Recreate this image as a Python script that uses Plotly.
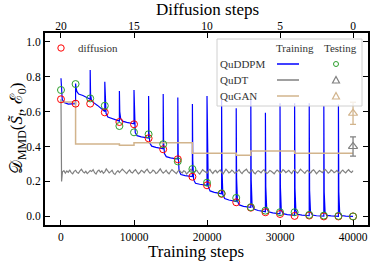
import plotly.graph_objects as go

# ---------------- data ----------------
diffusion_step_ticks = [20, 15, 10, 5, 0]
training_step_ticks = [0, 10000, 20000, 30000, 40000]
y_ticks = [0.0, 0.2, 0.4, 0.6, 0.8, 1.0]

# evaluation points (training steps) for circles
eval_steps = [0, 2000, 4000, 6000, 8000, 10000, 12000, 14000, 16000, 18000, 20000,
              22000, 24000, 26000, 28000, 30000, 32000, 34000, 36000, 38000, 40000]
diffusion_values = [0.67, 0.645, 0.645, 0.595, 0.54, 0.527, 0.447, 0.384, 0.327, 0.227, 0.178,
                    0.129, 0.081, 0.05, 0.024, 0.014, 0.003, 0.005, 0.0, 0.0, 0.0]
quddpm_test_values = [0.723, 0.757, 0.675, 0.633, 0.517, 0.481, 0.47, 0.413, 0.315, 0.271, 0.193,
                      0.132, 0.106, 0.053, 0.033, 0.024, 0.024, 0.009, 0.005, 0.003, 0.0]

# QuDDPM training: each 2000-step segment sampled at these offsets
segment_length = 2000
segment_offsets = [0, 50, 170, 420, 1000, 1999]
quddpm_train_segments = [
    [0.79, 0.72, 0.67, 0.652, 0.642, 0.645],
    [0.76, 0.74, 0.715, 0.70, 0.692, 0.67],
    [0.837, 0.70, 0.665, 0.652, 0.635, 0.60],
    [0.77, 0.64, 0.59, 0.568, 0.558, 0.545],
    [0.717, 0.60, 0.56, 0.545, 0.538, 0.53],
    [0.723, 0.54, 0.48, 0.462, 0.455, 0.448],
    [0.689, 0.48, 0.42, 0.402, 0.395, 0.387],
    [0.70, 0.43, 0.36, 0.342, 0.335, 0.328],
    [0.68, 0.36, 0.262, 0.24, 0.233, 0.228],
    [0.643, 0.32, 0.21, 0.19, 0.184, 0.178],
    [0.689, 0.30, 0.17, 0.146, 0.138, 0.13],
    [0.675, 0.27, 0.125, 0.102, 0.094, 0.085],
    [0.618, 0.22, 0.088, 0.066, 0.058, 0.052],
    [0.666, 0.21, 0.065, 0.042, 0.034, 0.027],
    [0.593, 0.17, 0.048, 0.027, 0.02, 0.015],
    [0.647, 0.17, 0.038, 0.016, 0.01, 0.006],
    [0.647, 0.16, 0.032, 0.012, 0.007, 0.004],
    [0.647, 0.15, 0.028, 0.008, 0.004, 0.002],
    [0.631, 0.14, 0.024, 0.006, 0.003, 0.001],
    [0.64, 0.14, 0.022, 0.005, 0.002, 0.0],
]

# QuDT training (noisy)
qudt_steps = [0, 80] + list(range(200, 40001, 200))
qudt_values = [0.67, 0.20,
    0.255, 0.262, 0.248, 0.26, 0.252, 0.266, 0.25, 0.244, 0.258, 0.264, 0.251, 0.247, 0.261, 0.27, 0.256, 0.249, 0.258, 0.245, 0.253, 0.263,
    0.257, 0.268, 0.25, 0.243, 0.259, 0.265, 0.252, 0.261, 0.247, 0.255, 0.272, 0.26, 0.249, 0.256, 0.264, 0.246, 0.24, 0.254, 0.262, 0.251,
    0.258, 0.27, 0.262, 0.25, 0.245, 0.257, 0.266, 0.253, 0.248, 0.26, 0.268, 0.255, 0.243, 0.251, 0.264, 0.258, 0.249, 0.262, 0.27, 0.256,
    0.247, 0.253, 0.265, 0.259, 0.246, 0.25, 0.263, 0.272, 0.258, 0.248, 0.255, 0.264, 0.251, 0.244, 0.257, 0.268, 0.26, 0.25, 0.245, 0.258,
    0.266, 0.254, 0.249, 0.261, 0.257, 0.243, 0.252, 0.265, 0.27, 0.256, 0.247, 0.259, 0.264, 0.25, 0.242, 0.255, 0.267, 0.26, 0.251, 0.248,
    0.262, 0.269, 0.255, 0.246, 0.258, 0.263, 0.25, 0.257, 0.266, 0.252, 0.244, 0.256, 0.27, 0.261, 0.249, 0.254, 0.265, 0.258, 0.247, 0.252,
    0.26, 0.267, 0.253, 0.245, 0.257, 0.264, 0.27, 0.256, 0.248, 0.259, 0.266, 0.251, 0.243, 0.255, 0.262, 0.257, 0.249, 0.261, 0.268, 0.254,
    0.246, 0.252, 0.263, 0.258, 0.25, 0.244, 0.256, 0.265, 0.259, 0.248, 0.254, 0.268, 0.261, 0.25, 0.257, 0.264, 0.253, 0.245, 0.26, 0.266,
    0.255, 0.248, 0.258, 0.27, 0.262, 0.251, 0.246, 0.259, 0.264, 0.254, 0.249, 0.261, 0.267, 0.256, 0.244, 0.253, 0.262, 0.257, 0.25, 0.263,
    0.268, 0.259, 0.247, 0.254, 0.266, 0.26, 0.25, 0.256, 0.263, 0.252, 0.245, 0.258, 0.265, 0.255, 0.249, 0.26, 0.268, 0.257, 0.251, 0.262]

# QuGAN training (step function)
qugan_steps = [0, 2000, 8000, 10000, 18000, 24000, 26000, 32000, 40000]
qugan_values = [0.655, 0.414, 0.407, 0.422, 0.361, 0.35, 0.374, 0.361, 0.361]

# testing results at the end
test_step = [40000]
qudt_test = [0.40]
qudt_test_err = [0.055]
qugan_test = [0.59]
qugan_test_err = [0.063]

# ---------------- figure ----------------
FONT = "Liberation Serif"
W, H = 374, 262
ML, MR, MT, MB = 45, 6, 33, 37
PW, PH = W - ML - MR, H - MT - MB

def px(xp):
    return (xp - ML) / PW

def py(yp):
    return (H - MB - yp) / PH

x_range = [-2190, 42050]
y_range = [-0.049, 1.049]

blue_x, blue_y = [], []
for k, seg in enumerate(quddpm_train_segments):
    for off, v in zip(segment_offsets, seg):
        blue_x.append(k * segment_length + off)
        blue_y.append(v)

fig = go.Figure()
fig.add_trace(go.Scatter(x=blue_x, y=blue_y, mode="lines",
                         line=dict(color="blue", width=1.2), showlegend=False))
fig.add_trace(go.Scatter(x=qudt_steps, y=qudt_values, mode="lines",
                         line=dict(color="gray", width=1.2), showlegend=False))
fig.add_trace(go.Scatter(x=qugan_steps, y=qugan_values, mode="lines",
                         line=dict(color="tan", width=1.5, shape="hv"), showlegend=False))
fig.add_trace(go.Scatter(x=eval_steps, y=diffusion_values, mode="markers",
                         marker=dict(symbol="circle-open", size=7, color="red",
                                     line=dict(width=1)), showlegend=False))
fig.add_trace(go.Scatter(x=eval_steps, y=quddpm_test_values, mode="markers",
                         marker=dict(symbol="circle-open", size=7, color="#2ca02c",
                                     line=dict(width=1)), showlegend=False))
fig.add_trace(go.Scatter(x=test_step, y=qudt_test, mode="markers",
                         marker=dict(symbol="triangle-up-open", size=8, color="gray",
                                     line=dict(width=1.2)),
                         error_y=dict(type="data", array=qudt_test_err, color="gray",
                                      thickness=1.3, width=3),
                         showlegend=False))
fig.add_trace(go.Scatter(x=test_step, y=qugan_test, mode="markers",
                         marker=dict(symbol="triangle-up-open", size=8, color="tan",
                                     line=dict(width=1.2)),
                         error_y=dict(type="data", array=qugan_test_err, color="tan",
                                      thickness=1.3, width=3),
                         showlegend=False))
# invisible trace for top axis
fig.add_trace(go.Scatter(x=diffusion_step_ticks, y=[0.5] * 5, xaxis="x2", mode="markers",
                         marker=dict(opacity=0), hoverinfo="skip", showlegend=False))

axis_common = dict(showgrid=False, zeroline=False, ticks="inside", ticklen=5, tickwidth=1.3,
                   tickcolor="black", automargin=False,
                   tickfont=dict(family=FONT, size=11.5, color="black"))

fig.update_layout(
    width=W, height=H,
    margin=dict(l=ML, r=MR, t=MT, b=MB, pad=0),
    paper_bgcolor="white", plot_bgcolor="white",
    font=dict(family=FONT, color="black"),
    xaxis=dict(range=x_range, tickvals=training_step_ticks,
               ticktext=[str(v) for v in training_step_ticks],
               showline=True, linewidth=2, linecolor="black", mirror="ticks",
               **axis_common),
    xaxis2=dict(overlaying="x", side="top", anchor="y",
                range=[20 - x_range[0] / 2000, 20 - x_range[1] / 2000],
                tickvals=diffusion_step_ticks,
                ticktext=[str(v) for v in diffusion_step_ticks],
                showline=False,
                **axis_common),
    yaxis=dict(range=y_range, tickvals=y_ticks, ticktext=[f"{v:.1f}" for v in y_ticks],
               showline=True, linewidth=2, linecolor="black", mirror="ticks",
               **axis_common),
)

shapes = []
annotations = []

# axis titles
annotations.append(dict(
    xref="paper", yref="paper", x=px(18), y=0.5, xanchor="center", yanchor="middle",
    text="𝒟<sub>MMD</sub>(<i>S̃</i><sub><i>t</i></sub>, ℰ<sub>0</sub>)",
    textangle=-90, showarrow=False, font=dict(family=FONT, size=17, color="black")))
annotations.append(dict(
    xref="paper", yref="paper", x=px(196), y=py(251), xanchor="center", yanchor="middle",
    text="Training steps", showarrow=False, font=dict(family=FONT, size=17, color="black")))
annotations.append(dict(
    xref="paper", yref="paper", x=px(207), y=py(10), xanchor="center", yanchor="middle",
    text="Diffusion steps", showarrow=False, font=dict(family=FONT, size=17, color="black")))

# "diffusion" legend entry
shapes.append(dict(type="circle", xref="paper", yref="paper",
                   x0=px(61) - 3.2 / PW, x1=px(61) + 3.2 / PW,
                   y0=py(48) - 3.2 / PH, y1=py(48) + 3.2 / PH,
                   line=dict(color="red", width=1), layer="above"))
annotations.append(dict(xref="paper", yref="paper", x=px(76), y=py(48), xanchor="left",
                        yanchor="middle", text="diffusion", showarrow=False,
                        font=dict(family=FONT, size=11, color="#333333")))

# custom legend box
shapes.append(dict(type="rect", xref="paper", yref="paper",
                   x0=px(217), x1=px(362), y0=py(106), y1=py(39),
                   fillcolor="rgba(255,255,255,0.8)", line=dict(color="#d0d0d0", width=1),
                   layer="above"))
annotations.append(dict(xref="paper", yref="paper", x=px(295), y=py(48), xanchor="center",
                        yanchor="middle", text="Training", showarrow=False,
                        font=dict(family=FONT, size=11, color="#333333")))
annotations.append(dict(xref="paper", yref="paper", x=px(340), y=py(48), xanchor="center",
                        yanchor="middle", text="Testing", showarrow=False,
                        font=dict(family=FONT, size=11, color="#333333")))
rows = [("QuDDPM", "blue", 64), ("QuDT", "gray", 80), ("QuGAN", "tan", 96)]
for name, col, yy in rows:
    annotations.append(dict(xref="paper", yref="paper", x=px(218), y=py(yy), xanchor="left",
                            yanchor="middle", text=name, showarrow=False,
                            font=dict(family=FONT, size=11, color="#333333")))
    shapes.append(dict(type="line", xref="paper", yref="paper", x0=px(277), x1=px(299),
                       y0=py(yy), y1=py(yy), line=dict(color=col, width=1.5), layer="above"))
# legend markers
shapes.append(dict(type="circle", xref="paper", yref="paper",
                   x0=px(336) - 2.5 / PW, x1=px(336) + 2.5 / PW,
                   y0=py(64) - 2.5 / PH, y1=py(64) + 2.5 / PH,
                   line=dict(color="#2ca02c", width=1), layer="above"))
for col, yy in [("gray", 80), ("tan", 96)]:
    xl, xr, xc = px(336 - 3.5), px(336 + 3.5), px(336)
    yb, yt = py(yy + 3), py(yy - 3.5)
    shapes.append(dict(type="path", xref="paper", yref="paper",
                       path=f"M {xl},{yb} L {xr},{yb} L {xc},{yt} Z",
                       line=dict(color=col, width=1.2), layer="above"))

fig.update_layout(shapes=shapes, annotations=annotations)
fig.write_html("out.html", config={"displayModeBar": False},
               post_script="document.body.style.margin='0px';document.body.style.overflow='hidden';")
